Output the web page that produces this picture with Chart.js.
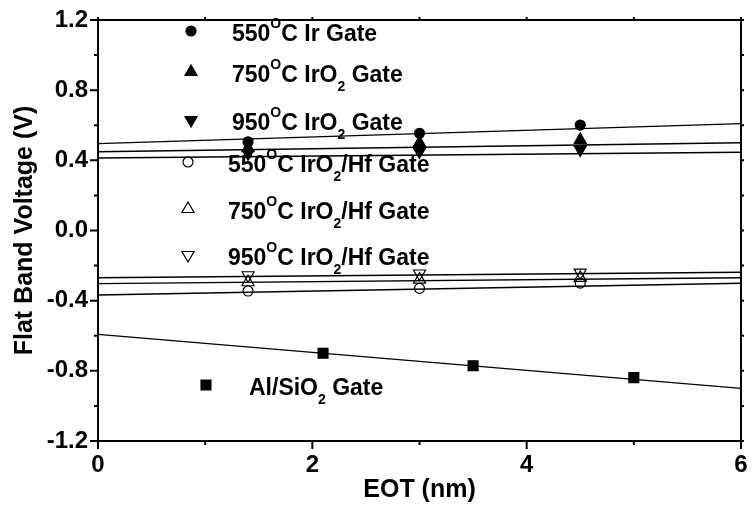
<!DOCTYPE html>
<html>
<head>
<meta charset="utf-8">
<script src="https://cdn.jsdelivr.net/npm/chart.js@4.4.0/dist/chart.umd.min.js"></script>
<style>
  body { margin: 0; background: #fff; }
  #wrap { width: 754px; height: 507px; }
</style>
</head>
<body>
<div id="wrap"><canvas id="myChart"></canvas></div>
<script>
// EOT (nm) of the Ir / IrO2 gate capacitors and of the Al/SiO2 reference
const eotIr = [1.4, 3.0, 4.5];
const eotAl = [2.1, 3.5, 5.0];

// flat band voltage (V)
const vfb550Ir = [0.506, 0.554, 0.601];
const vfb750IrO2 = [0.47, 0.50, 0.516];
const vfb950IrO2 = [0.44, 0.45, 0.462];
const vfb550Hf = [-0.345, -0.33, -0.30];
const vfb750Hf = [-0.295, -0.28, -0.27];
const vfb950Hf = [-0.255, -0.245, -0.24];
const vfbAl = [-0.70, -0.771, -0.839];

// straight-line fits: value at EOT = 0 and at EOT = 6
const fitRange = [0, 6];
const fitStart = [0.495, 0.449, 0.413, -0.368, -0.303, -0.269, -0.592];
const fitEnd = [0.609, 0.50, 0.446, -0.301, -0.269, -0.238, -0.90];

const labels = [
  '550°C Ir Gate', '750°C IrO2 Gate', '950°C IrO2 Gate',
  '550°C IrO2/Hf Gate', '750°C IrO2/Hf Gate', '950°C IrO2/Hf Gate',
  'Al/SiO2 Gate'
];
const pointEot = [eotIr, eotIr, eotIr, eotIr, eotIr, eotIr, eotAl];
const pointVfb = [vfb550Ir, vfb750IrO2, vfb950IrO2, vfb550Hf, vfb750Hf, vfb950Hf, vfbAl];

const markers = [
  {style: 'circle', rot: 0, r: 5, filled: true},
  {style: 'triangle', rot: 0, r: 7, filled: true},
  {style: 'triangle', rot: 180, r: 7, filled: true},
  {style: 'circle', rot: 0, r: 5, filled: false},
  {style: 'triangle', rot: 0, r: 7, filled: false},
  {style: 'triangle', rot: 180, r: 7, filled: false},
  {style: 'rect', rot: 0, r: 7, filled: true}
];

// key placement: symbol x, text x, text baseline (from the plot's top-left)
const keyRows = [
  {sx: 93, tx: 134, base: 21},
  {sx: 93, tx: 134, base: 62},
  {sx: 93, tx: 134, base: 110},
  {sx: 90, tx: 130, base: 152},
  {sx: 90, tx: 130, base: 199},
  {sx: 90, tx: 130, base: 245},
  {sx: 108, tx: 151, base: 375}
];

const FONT = "'Liberation Sans', Arial, sans-serif";

const datasets = [];
labels.forEach((name, i) => {
  const m = markers[i];
  datasets.push({
    type: 'scatter',
    label: name,
    data: pointEot[i].map((x, k) => ({x: x, y: pointVfb[i][k]})),
    pointStyle: m.style,
    rotation: m.rot,
    pointRadius: m.r,
    pointHoverRadius: m.r,
    backgroundColor: m.filled ? '#000' : 'rgba(0,0,0,0)',
    borderColor: '#000',
    borderWidth: 1.2,
    order: 1
  });
  datasets.push({
    type: 'line',
    label: name + ' fit',
    data: fitRange.map((x, k) => ({x: x, y: k ? fitEnd[i] : fitStart[i]})),
    borderColor: '#000',
    borderWidth: 1.4,
    pointRadius: 0,
    fill: false,
    order: 2
  });
});

// text with "°" drawn as a raised O and the 2 of "O2" dropped
function drawRich(ctx, text, x, base) {
  const big = 'bold 23px ' + FONT;
  const small = 'bold 14px ' + FONT;
  ctx.save();
  ctx.fillStyle = '#000';
  ctx.textBaseline = 'alphabetic';
  let cx = x, prev = '';
  for (const ch of text) {
    if (ch === '°') {
      ctx.font = small;
      ctx.fillText('O', cx, base - 13);
      cx += ctx.measureText('O').width;
    } else if (ch === '2' && prev === 'O') {
      ctx.font = small;
      ctx.fillText('2', cx, base + 9);
      cx += ctx.measureText('2').width;
    } else {
      ctx.font = big;
      ctx.fillText(ch, cx, base);
      cx += ctx.measureText(ch).width;
    }
    prev = ch;
  }
  ctx.restore();
}

const keyPlugin = {
  id: 'seriesKey',
  afterDatasetsDraw(chart) {
    const {ctx, chartArea: a} = chart;
    labels.forEach((name, i) => {
      const row = keyRows[i];
      const m = markers[i];
      ctx.save();
      ctx.fillStyle = m.filled ? '#000' : 'rgba(0,0,0,0)';
      ctx.strokeStyle = '#000';
      ctx.lineWidth = 1.2;
      Chart.helpers.drawPoint(ctx, {pointStyle: m.style, rotation: m.rot, radius: m.r, borderWidth: 1.2},
        a.left + row.sx, a.top + row.base - 10);
      ctx.restore();
      drawRich(ctx, name, a.left + row.tx, a.top + row.base);
    });
  }
};

// box round the plot, with long ticks at labelled values and short ones between
const framePlugin = {
  id: 'frame',
  afterDatasetsDraw(chart) {
    const {ctx, chartArea: a, scales} = chart;
    ctx.save();
    ctx.strokeStyle = '#000';
    ctx.lineWidth = 2;
    ctx.strokeRect(a.left, a.top, a.right - a.left, a.bottom - a.top);
    ctx.beginPath();
    scales.x.ticks.forEach(t => {
      const px = scales.x.getPixelForValue(t.value);
      const len = t.label !== '' ? 8 : 4;
      ctx.moveTo(px, a.bottom);
      ctx.lineTo(px, a.bottom + len);
      ctx.moveTo(px, a.top);
      ctx.lineTo(px, a.top - 3);
    });
    scales.y.ticks.forEach(t => {
      const py = scales.y.getPixelForValue(t.value);
      const len = t.label !== '' ? 8 : 4;
      ctx.moveTo(a.left, py);
      ctx.lineTo(a.left - len, py);
      ctx.moveTo(a.right, py);
      ctx.lineTo(a.right + 3, py);
    });
    ctx.stroke();
    ctx.restore();
  }
};

const tickFont = {family: FONT, size: 24, weight: 'bold', lineHeight: 1};
const titleFont = {family: FONT, size: 25, weight: 'bold', lineHeight: 1};

new Chart(document.getElementById('myChart').getContext('2d'), {
  type: 'scatter',
  data: {datasets: datasets},
  plugins: [framePlugin, keyPlugin],
  options: {
    responsive: true,
    maintainAspectRatio: false,
    animation: false,
    layout: {padding: {top: 20, right: 13, left: 0, bottom: 0}},
    plugins: {legend: {display: false}, tooltip: {enabled: false}},
    scales: {
      x: {
        type: 'linear', min: 0, max: 6,
        grid: {display: false},
        border: {display: false},
        ticks: {
          stepSize: 1, color: '#000', font: tickFont, padding: 4, maxRotation: 0,
          callback: v => (Math.round(v) % 2 === 0 ? String(Math.round(v)) : '')
        },
        title: {display: true, text: 'EOT (nm)', color: '#000', font: titleFont, padding: {top: 0, bottom: 4}},
        afterFit: s => { s.height = 66; s.paddingLeft = 0; s.paddingRight = 0; }
      },
      y: {
        type: 'linear', min: -1.2, max: 1.2,
        grid: {display: false},
        border: {display: false},
        ticks: {
          stepSize: 0.2, color: '#000', font: tickFont, padding: 2,
          callback: v => {
            const n = Math.round(v * 5);
            if (n % 2 !== 0) return '';
            return n === 0 ? '0.0' : (n / 5).toFixed(1);
          }
        },
        title: {display: true, text: 'Flat Band Voltage (V)', color: '#000', font: titleFont, padding: {top: 13, bottom: 0}},
        afterFit: s => { s.width = 98; s.paddingTop = 0; s.paddingBottom = 0; }
      }
    }
  }
});
</script>
</body>
</html>
